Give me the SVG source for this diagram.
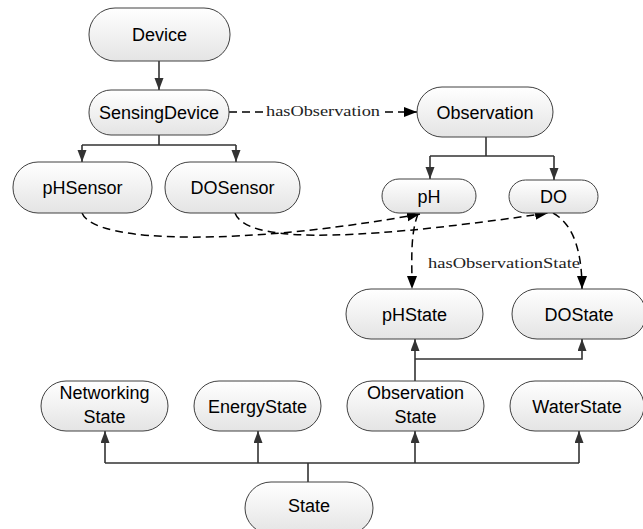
<svg xmlns="http://www.w3.org/2000/svg" width="643" height="529" viewBox="0 0 643 529">
<defs>
<linearGradient id="g" x1="0" y1="0" x2="0" y2="1">
<stop offset="0" stop-color="#ffffff"/>
<stop offset="1" stop-color="#e4e4e4"/>
</linearGradient>
<marker id="a" markerUnits="userSpaceOnUse" markerWidth="14" markerHeight="11" refX="13" refY="5" orient="auto">
<path d="M0,0 L13,5 L0,10 z" fill="#000"/>
</marker>
<marker id="b" markerUnits="userSpaceOnUse" markerWidth="13" markerHeight="10" refX="12" refY="4.5" orient="auto">
<path d="M0,0 L12,4.5 L0,9 z" fill="#333"/>
</marker>
</defs>
<style>
.n rect{fill:url(#g);stroke:#404040;stroke-width:1}
.n text{font-family:"Liberation Sans",Arial,sans-serif;font-size:18px;fill:#000;text-anchor:middle}
.s{fill:none;stroke:#333;stroke-width:1.6}
.d{fill:none;stroke:#000;stroke-width:1.5;stroke-dasharray:8,5}
.l{font-family:"Liberation Serif","Times New Roman",serif;font-size:15px;fill:#222}
</style>
<rect width="643" height="529" fill="#fff"/>
<g id="connectors">
<path class="s" d="M159,61 V90" marker-end="url(#b)"/>
<path class="s" d="M159,135 V145 M82,145 H236"/>
<path class="s" d="M82,145 V162" marker-end="url(#b)"/>
<path class="s" d="M236,145 V162" marker-end="url(#b)"/>
<path class="s" d="M486,137 V156 M430,156 H554"/>
<path class="s" d="M430,156 V179" marker-end="url(#b)"/>
<path class="s" d="M554,156 V180" marker-end="url(#b)"/>
<path class="d" d="M229,112 H417" marker-end="url(#a)"/>
<rect x="264" y="103" width="118" height="16" fill="#fff"/>
<text class="l" x="266" y="116" textLength="114" lengthAdjust="spacingAndGlyphs">hasObservation</text>
<path class="d" d="M82,213 C95,245 250,245 420,214" marker-end="url(#a)"/>
<path class="d" d="M235,213 C245,240 330,245 548,213" marker-end="url(#a)"/>
<path class="d" d="M418,214 C410,235 412,260 412,289" marker-end="url(#a)"/>
<path class="d" d="M553,213 C575,225 582,255 582,289" marker-end="url(#a)"/>
<text class="l" x="428" y="268" textLength="152" lengthAdjust="spacingAndGlyphs">hasObservationState</text>
<path class="s" d="M308,482 V463 M105,463 H579"/>
<path class="s" d="M105,463 V431" marker-end="url(#b)"/>
<path class="s" d="M258,463 V431" marker-end="url(#b)"/>
<path class="s" d="M415,463 V431" marker-end="url(#b)"/>
<path class="s" d="M579,463 V431" marker-end="url(#b)"/>
<path class="s" d="M415,381 V339" marker-end="url(#b)"/>
<path class="s" d="M415,359 H582 V339" marker-end="url(#b)"/>
</g>
<g id="Device" class="n"><rect x="89" y="8" width="141" height="53" rx="26"/><text x="159.5" y="41">Device</text></g>
<g id="SensingDevice" class="n"><rect x="89" y="90" width="140" height="45" rx="22"/><text x="159" y="119">SensingDevice</text></g>
<g id="pHSensor" class="n"><rect x="13" y="162" width="139" height="51" rx="25"/><text x="82.5" y="194">pHSensor</text></g>
<g id="DOSensor" class="n"><rect x="165" y="162" width="135" height="51" rx="25"/><text x="232.5" y="194">DOSensor</text></g>
<g id="Observation" class="n"><rect x="417" y="87" width="136" height="50" rx="25"/><text x="485" y="118.5">Observation</text></g>
<g id="pH" class="n"><rect x="382" y="179" width="94" height="34" rx="17"/><text x="429" y="202.5">pH</text></g>
<g id="DO" class="n"><rect x="509" y="180" width="89" height="33" rx="16.5"/><text x="553.5" y="203">DO</text></g>
<g id="pHState" class="n"><rect x="346" y="289" width="137" height="50" rx="25"/><text x="414.5" y="320.5">pHState</text></g>
<g id="DOState" class="n"><rect x="512" y="289" width="134" height="50" rx="25"/><text x="579" y="320.5">DOState</text></g>
<g id="NetworkingState" class="n"><rect x="41" y="381" width="127" height="50" rx="25"/><text x="104.5" y="399">Networking</text><text x="104.5" y="423">State</text></g>
<g id="EnergyState" class="n"><rect x="194" y="381" width="127" height="50" rx="25"/><text x="257.5" y="412.5">EnergyState</text></g>
<g id="ObservationState" class="n"><rect x="347" y="381" width="137" height="50" rx="25"/><text x="415.5" y="399">Observation</text><text x="415.5" y="423">State</text></g>
<g id="WaterState" class="n"><rect x="510" y="381" width="134" height="50" rx="25"/><text x="577" y="412.5">WaterState</text></g>
<g id="State" class="n"><rect x="245" y="482" width="128" height="52" rx="26"/><text x="309" y="512">State</text></g>
</svg>
